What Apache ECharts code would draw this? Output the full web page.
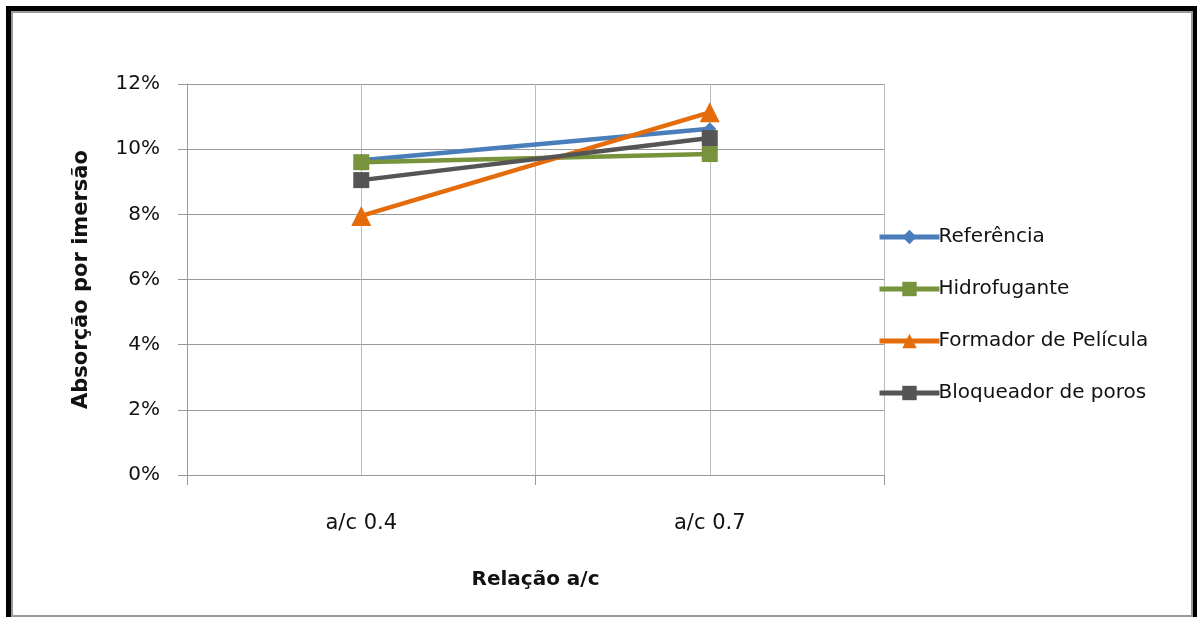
<!DOCTYPE html>
<html><head><meta charset="utf-8">
<script src="https://cdn.jsdelivr.net/npm/echarts@6/dist/echarts.min.js"></script>
<style>html,body{margin:0;padding:0;background:#fff}#c{width:1198px;height:617px}</style>
</head><body><div id="c"></div>
<script>
const categories = ['a/c 0.4', 'a/c 0.7'];
const referencia = [0.0966, 0.1063];
const hidrofugante = [0.0960, 0.0985];
const formador = [0.0795, 0.1113];
const bloqueador = [0.0905, 0.1034];
const seriesNames = ['Referência', 'Hidrofugante', 'Formador de Película', 'Bloqueador de poros'];
const colors = ['#4A7EBB', '#77933C', '#E46C0A', '#555555'];
const symbols = ['diamond', 'rect', 'triangle', 'rect'];
const symbolSizes = [13, 16, 20, 16];
const values = [referencia, hidrofugante, formador, bloqueador];
const fontFam = 'DejaVu Sans';

const chart = echarts.init(document.getElementById('c'));
chart.setOption({
  animation: false,
  backgroundColor: '#fff',
  textStyle: { fontFamily: fontFam },
  graphic: [
    { type: 'rect', z: -10, shape: { x: 6, y: 6, width: 1191, height: 620 }, style: { fill: '#000' } },
    { type: 'rect', z: -9, shape: { x: 12, y: 12, width: 1180, height: 604 }, style: { fill: '#fff', stroke: '#999', lineWidth: 2 } }
  ],
  grid: { left: 187, right: 314, top: 84, bottom: 142 },
  legend: {
    orient: 'vertical', left: 872, top: 220, itemGap: 28, itemWidth: 60, itemHeight: 18,
    lineStyle: { width: 5 },
    textStyle: { fontSize: 20, color: '#111', fontFamily: fontFam, padding: [0, 0, 0, -6], lineHeight: 24 },
    data: seriesNames
  },
  xAxis: [{
    type: 'category', data: categories, boundaryGap: true,
    name: 'Relação a/c', nameLocation: 'middle', nameGap: 95,
    nameTextStyle: { fontSize: 20, fontWeight: 'bold', color: '#111', fontFamily: fontFam },
    axisLine: { lineStyle: { color: '#999', width: 1 } },
    axisTick: { show: true, length: 10, lineStyle: { color: '#999' } },
    axisLabel: { fontSize: 21, color: '#111', margin: 38, fontFamily: fontFam },
    splitLine: { show: false }
  }, {
    type: 'value', min: 0, max: 4, interval: 1, position: 'bottom',
    axisLine: { show: false }, axisTick: { show: false }, axisLabel: { show: false },
    splitLine: { show: true, lineStyle: { color: '#bbb', width: 1 } }
  }],
  yAxis: {
    type: 'value', min: 0, max: 0.12, interval: 0.02,
    name: 'Absorção por imersão', nameLocation: 'middle', nameGap: 95,
    nameTextStyle: { fontSize: 21, fontWeight: 'bold', color: '#111', fontFamily: fontFam },
    axisLine: { show: true, lineStyle: { color: '#999' } },
    axisTick: { show: true, length: 9, lineStyle: { color: '#999' } },
    axisLabel: { fontSize: 20, color: '#111', margin: 27, fontFamily: fontFam, formatter: v => Math.round(v * 100) + '%' },
    splitLine: { show: true, lineStyle: { color: '#999', width: 1 } }
  },
  series: seriesNames.map((n, i) => ({
    name: n, type: 'line', data: values[i],
    symbol: symbols[i], symbolSize: symbolSizes[i],
    lineStyle: { color: colors[i], width: 4.5 },
    itemStyle: { color: colors[i] },
    z: 3 + i
  }))
});
</script></body></html>
